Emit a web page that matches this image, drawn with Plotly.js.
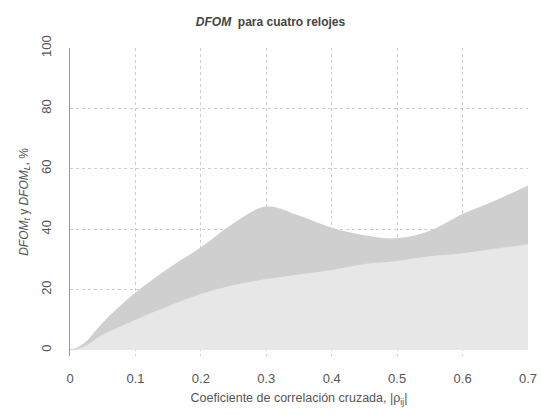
<!DOCTYPE html>
<html>
<head>
<meta charset="utf-8">
<script src="https://cdn.plot.ly/plotly-3.0.1.min.js"></script>
<style>html,body{margin:0;padding:0;background:#fff;}#chart{width:541px;height:415px;}</style>
</head>
<body>
<div id="chart"></div>
<script>
var rho = [0, 0.02, 0.05, 0.1, 0.15, 0.2, 0.25, 0.3, 0.35, 0.4, 0.45, 0.5, 0.55, 0.6, 0.65, 0.7];
var dfomT = [0, 2, 9, 19, 27, 34, 42, 47.5, 44.5, 40.5, 38, 37, 39.5, 45, 49.5, 54.5];
var dfomL = [0, 1, 5, 10, 14.5, 18.5, 21.5, 23.5, 25, 26.5, 28.5, 29.5, 31, 32, 33.5, 35];
var xTicks = [0, 0.1, 0.2, 0.3, 0.4, 0.5, 0.6, 0.7];
var yTicks = [0, 20, 40, 60, 80, 100];

var font = {family: 'Liberation Sans, Arial, sans-serif', size: 13, color: '#555'};

var traces = [
  {x: rho, y: dfomT, type: 'scatter', mode: 'lines', fill: 'tozeroy',
   fillcolor: 'rgb(207,207,207)', line: {width: 0, shape: 'spline'}, hoverinfo: 'skip', showlegend: false},
  {x: rho, y: dfomL, type: 'scatter', mode: 'lines', fill: 'tozeroy',
   fillcolor: 'rgb(231,231,231)', line: {width: 0, shape: 'spline'}, hoverinfo: 'skip', showlegend: false}
];

var layout = {
  width: 541, height: 415,
  margin: {l: 70, r: 13, t: 48, b: 59},
  paper_bgcolor: '#fff', plot_bgcolor: '#fff',
  font: font,
  title: {text: '<i>DFOM</i>  para cuatro relojes', x: 0.5, xref: 'container', xanchor: 'center',
          y: 1 - 22/415, yref: 'container', yanchor: 'middle',
          font: {family: 'Liberation Sans, Arial, sans-serif', size: 12, color: '#444', weight: 'bold'}},
  xaxis: {range: [0, 0.7], tickvals: xTicks, ticktext: xTicks.map(function(v){return String(v);}),
          showgrid: true, gridcolor: '#cdcdcd', griddash: 'dot', gridwidth: 1,
          zeroline: false, showline: false, ticks: '', ticklabelstandoff: 13,
          title: {text: 'Coeficiente de correlación cruzada, |ρ<sub>ij</sub>|', standoff: 8,
                  font: {family: 'Liberation Sans, Arial, sans-serif', size: 12.5, color: '#555'}}},
  yaxis: {range: [-2, 100], tickvals: yTicks, tickangle: -90,
          showgrid: true, gridcolor: '#cdcdcd', griddash: 'dot', gridwidth: 1,
          zeroline: false, showline: true, linecolor: '#999', linewidth: 1.5, ticks: '', ticklabelstandoff: 12,
          title: {text: '<i>DFOM<sub>t</sub></i> y <i>DFOM<sub>L</sub></i>, %', standoff: 8,
                  font: {family: 'Liberation Sans, Arial, sans-serif', size: 12, color: '#555'}}}
};

Plotly.newPlot('chart', traces, layout, {displayModeBar: false, staticPlot: true});
</script>
</body>
</html>
